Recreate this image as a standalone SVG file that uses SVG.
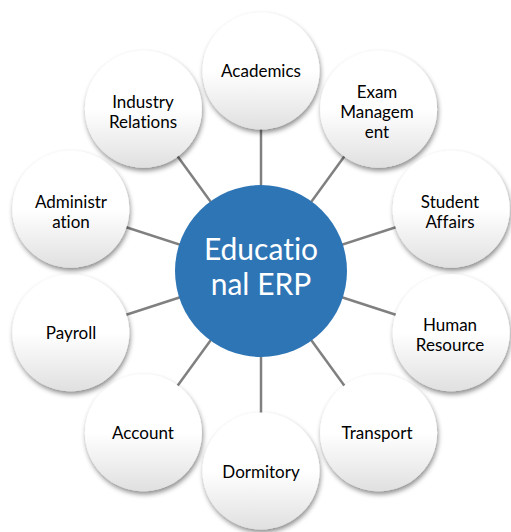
<svg xmlns="http://www.w3.org/2000/svg" width="511" height="532" viewBox="0 0 511 532">
<style>
.c{stroke:#808080;stroke-width:2.5}
.n{fill:url(#g);filter:url(#sh)}
.t{font-family:Lato,"Liberation Sans",sans-serif;font-size:17px;fill:#000;text-anchor:middle;font-variant-ligatures:none;font-feature-settings:"liga" 0}
.ct{font-family:Lato,"Liberation Sans",sans-serif;font-size:30px;fill:#fff;text-anchor:middle;font-variant-ligatures:none;font-feature-settings:"liga" 0}
</style>
<defs>
<linearGradient id="g" x1="0" y1="0" x2="0" y2="1">
<stop offset="0" stop-color="#ffffff"/>
<stop offset="0.5" stop-color="#ffffff"/>
<stop offset="1" stop-color="#e0e0e0"/>
</linearGradient>
<filter id="sh" x="-20%" y="-20%" width="140%" height="150%">
<feDropShadow dx="1" dy="3" stdDeviation="2.5" flood-color="#000" flood-opacity="0.45"/>
</filter>
</defs>
<rect width="511" height="532" fill="#fff"/>
<g id="connectors">
<line class="c" x1="261" y1="271" x2="261" y2="71"/>
<line class="c" x1="261" y1="271" x2="378.6" y2="109.2"/>
<line class="c" x1="261" y1="271" x2="451.2" y2="209.2"/>
<line class="c" x1="261" y1="271" x2="451.2" y2="332.8"/>
<line class="c" x1="261" y1="271" x2="378.6" y2="432.8"/>
<line class="c" x1="261" y1="271" x2="261" y2="471"/>
<line class="c" x1="261" y1="271" x2="143.4" y2="432.8"/>
<line class="c" x1="261" y1="271" x2="70.8" y2="332.8"/>
<line class="c" x1="261" y1="271" x2="70.8" y2="209.2"/>
<line class="c" x1="261" y1="271" x2="143.4" y2="109.2"/>
</g>
<g id="center">
<circle cx="261" cy="271" r="86" fill="#2E75B6"/>
<text class="ct" x="261" y="260">Educatio</text>
<text class="ct" x="261" y="295">nal ERP</text>
</g>
<g id="academics">
<circle class="n" cx="261" cy="71" r="58.5"/>
<text class="t" x="261" y="77">Academics</text>
</g>
<g id="exam">
<circle class="n" cx="378.6" cy="109.2" r="58.5"/>
<text class="t" x="377" y="98">Exam</text>
<text class="t" x="377" y="118">Managem</text>
<text class="t" x="377" y="138">ent</text>
</g>
<g id="student">
<circle class="n" cx="451.2" cy="209.2" r="58.5"/>
<text class="t" x="450" y="208">Student</text>
<text class="t" x="450" y="228">Affairs</text>
</g>
<g id="human">
<circle class="n" cx="451.2" cy="332.8" r="58.5"/>
<text class="t" x="450" y="331">Human</text>
<text class="t" x="450" y="351">Resource</text>
</g>
<g id="transport">
<circle class="n" cx="378.6" cy="432.8" r="58.5"/>
<text class="t" x="377" y="439">Transport</text>
</g>
<g id="dormitory">
<circle class="n" cx="261" cy="471" r="58.5"/>
<text class="t" x="261" y="478">Dormitory</text>
</g>
<g id="account">
<circle class="n" cx="143.4" cy="432.8" r="58.5"/>
<text class="t" x="143" y="439">Account</text>
</g>
<g id="payroll">
<circle class="n" cx="70.8" cy="332.8" r="58.5"/>
<text class="t" x="71" y="339">Payroll</text>
</g>
<g id="administration">
<circle class="n" cx="70.8" cy="209.2" r="58.5"/>
<text class="t" x="71" y="208">Administr</text>
<text class="t" x="71" y="228">ation</text>
</g>
<g id="industry">
<circle class="n" cx="143.4" cy="109.2" r="58.5"/>
<text class="t" x="143" y="108">Industry</text>
<text class="t" x="143" y="128">Relations</text>
</g>
</svg>
